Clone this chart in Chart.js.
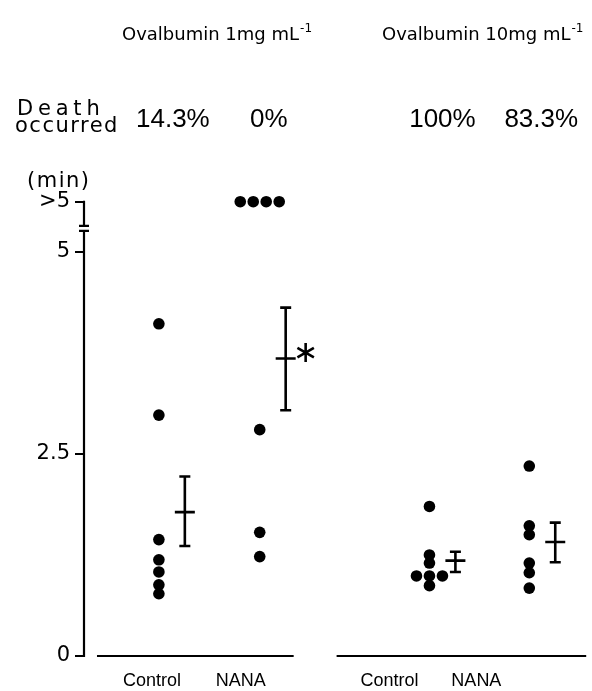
<!DOCTYPE html>
<html>
<head>
<meta charset="utf-8">
<script src="https://cdn.jsdelivr.net/npm/chart.js@4.4.1/dist/chart.umd.min.js"></script>
<style>
  html, body { margin: 0; padding: 0; background: #fff; }
  #wrap { width: 592px; height: 691px; position: relative; }
</style>
</head>
<body>
<div id="wrap"><canvas id="shock-chart"></canvas></div>
<script>
// 생존 시간 (min), ">5" 는 위쪽 줄에 찍음
const ABOVE5 = 5.62;
const groupNames = ['Control', 'NANA', 'Control', 'NANA'];
const groupX = [1, 2.01, 3.71, 4.71];
const labelX = [0.93, 1.82, 3.31, 4.18];
const deathRate = ['14.3%', '0%', '100%', '83.3%'];
const deathRateX = [1.14, 2.1, 3.84, 4.83];

const control1 = [4.11, 2.98, 1.44, 1.19, 1.04, 0.88, 0.77];
const nana1 = [ABOVE5, ABOVE5, ABOVE5, ABOVE5, 2.80, 1.53, 1.23];
const control10 = [1.85, 1.25, 1.15, 0.99, 0.99, 0.99, 0.87];
const nana10 = [2.35, 1.61, 1.50, 1.15, 1.03, 0.84];
// 같은 값끼리 옆으로 비켜 찍기
const control1Shift = [0, 0, 0, 0, 0, 0, 0];
const nana1Shift = [-0.195, -0.065, 0.065, 0.195, 0, 0, 0];
const control10Shift = [0, 0, 0, -0.13, 0, 0.13, 0];
const nana10Shift = [0, 0, 0, 0, 0, 0];

// 평균 ± SE
const means = [1.78, 3.68, 1.18, 1.41];
const seHigh = [2.22, 4.31, 1.29, 1.65];
const seLow = [1.36, 3.04, 1.04, 1.16];
const meanOffset = 0.26;

const yTicks = [0, 2.5, 5, ABOVE5];
const yTickLabels = ['0', '2.5', '5', '>5'];
const axisBreak = [5.26, 5.32];
const baseSegments = [[0.38, 2.35], [2.78, 5.28]];

const FONT = '"DejaVu Sans", "Liberation Sans", Arial, sans-serif';
const SANS = '"Liberation Sans", Arial, Helvetica, sans-serif';

const values = [control1, nana1, control10, nana10];
const shifts = [control1Shift, nana1Shift, control10Shift, nana10Shift];

const datasets = values.map((vals, g) => ({
	data: vals.map((v, i) => ({ x: groupX[g] + shifts[g][i], y: v })),
	pointRadius: 5.8,
	pointBackgroundColor: '#000',
	pointBorderColor: '#000',
	pointBorderWidth: 0,
	showLine: false
}));

const extras = {
	id: 'extras',
	afterDatasetsDraw(chart) {
		const { ctx, chartArea } = chart;
		const x = chart.scales.x, y = chart.scales.y;
		ctx.save();
		ctx.strokeStyle = '#000';
		ctx.fillStyle = '#000';
		ctx.lineWidth = 2.2;
		ctx.lineCap = 'butt';

		// y 축 (끊김 표시 포함)
		const ax = chartArea.left - 1;
		const yb0 = y.getPixelForValue(axisBreak[0]);
		const yb1 = y.getPixelForValue(axisBreak[1]);
		ctx.beginPath();
		ctx.moveTo(ax, y.getPixelForValue(0) + 1);
		ctx.lineTo(ax, yb0);
		ctx.moveTo(ax - 5, yb0);
		ctx.lineTo(ax + 5, yb0);
		ctx.moveTo(ax - 5, yb1);
		ctx.lineTo(ax + 5, yb1);
		ctx.moveTo(ax, yb1);
		ctx.lineTo(ax, y.getPixelForValue(ABOVE5) - 1);
		ctx.stroke();

		// 아래 기준선
		const y0 = y.getPixelForValue(0);
		ctx.lineWidth = 2;
		ctx.beginPath();
		baseSegments.forEach(s => {
			ctx.moveTo(x.getPixelForValue(s[0]), y0);
			ctx.lineTo(x.getPixelForValue(s[1]), y0);
		});
		ctx.stroke();

		// 평균 ± SE 막대
		ctx.lineWidth = 2.6;
		means.forEach((m, i) => {
			const px = x.getPixelForValue(groupX[i] + meanOffset);
			const hi = y.getPixelForValue(seHigh[i]);
			const lo = y.getPixelForValue(seLow[i]);
			const my = y.getPixelForValue(m);
			ctx.beginPath();
			ctx.moveTo(px, hi);
			ctx.lineTo(px, lo);
			ctx.moveTo(px - 5.5, hi);
			ctx.lineTo(px + 5.5, hi);
			ctx.moveTo(px - 5.5, lo);
			ctx.lineTo(px + 5.5, lo);
			ctx.moveTo(px - 10, my);
			ctx.lineTo(px + 10, my);
			ctx.stroke();
		});

		// 유의차 별표
		const sx = x.getPixelForValue(groupX[1] + meanOffset + 0.2);
		const sy = y.getPixelForValue(means[1]) - 6;
		ctx.lineWidth = 2.6;
		ctx.beginPath();
		for (let k = 0; k < 3; k++) {
			const a = Math.PI / 2 + k * Math.PI / 3;
			ctx.moveTo(sx - 9.5 * Math.cos(a), sy - 9.5 * Math.sin(a));
			ctx.lineTo(sx + 9.5 * Math.cos(a), sy + 9.5 * Math.sin(a));
		}
		ctx.stroke();
		ctx.restore();
	},
	afterDraw(chart) {
		const { ctx } = chart;
		const x = chart.scales.x;
		ctx.save();
		ctx.fillStyle = '#000';
		ctx.textBaseline = 'alphabetic';

		// 제목
		const title = (text, left) => {
			ctx.font = '18px ' + FONT;
			ctx.textAlign = 'left';
			ctx.fillText(text, left, 40);
			const w = ctx.measureText(text).width;
			ctx.font = '12px ' + FONT;
			ctx.fillText('-1', left + w + 1, 32);
		};
		title('Ovalbumin 1mg mL', 122);
		title('Ovalbumin 10mg mL', 382);

		ctx.font = '21px ' + FONT;
		ctx.letterSpacing = '4.8px';
		ctx.fillText('Death', 17, 115);
		ctx.letterSpacing = '1.5px';
		ctx.fillText('occurred', 15, 132);

		ctx.letterSpacing = '0px';
		ctx.font = '26px ' + SANS;
		ctx.textAlign = 'center';
		ctx.textBaseline = 'alphabetic';
		deathRate.forEach((t, i) => {
			ctx.fillText(t, x.getPixelForValue(deathRateX[i]), 127);
		});

		ctx.font = '21px ' + FONT;
		ctx.textAlign = 'left';
		ctx.letterSpacing = '1.5px';
		ctx.fillText('(min)', 27, 187);
		ctx.restore();
	}
};

document.addEventListener('DOMContentLoaded', function() {
	const ctx = document.getElementById('shock-chart').getContext('2d');
	new Chart(ctx, {
		type: 'scatter',
		data: { datasets: datasets },
		options: {
			responsive: true,
			maintainAspectRatio: false,
			animation: false,
			layout: { padding: { top: 171, right: 0, bottom: 0, left: 0 } },
			plugins: {
				legend: { display: false },
				tooltip: { enabled: false }
			},
			scales: {
				x: {
					type: 'linear',
					min: 0.26,
					max: 5.28,
					afterFit(s) { s.height = 35; },
					afterBuildTicks(s) { s.ticks = labelX.map(v => ({ value: v })); },
					grid: { display: false, drawTicks: false },
					border: { display: false },
					ticks: {
						callback: (v, i) => groupNames[i],
						font: { family: SANS, size: 18 },
						color: '#000',
						padding: 14,
						maxRotation: 0,
						autoSkip: false
					}
				},
				y: {
					min: 0,
					max: 6,
					afterFit(s) { s.width = 85; },
					afterBuildTicks(s) { s.ticks = yTicks.map(v => ({ value: v })); },
					grid: { drawOnChartArea: false, drawTicks: true, tickLength: 10, color: '#000', lineWidth: 2 },
					border: { display: false },
					ticks: {
						callback: (v, i) => yTickLabels[i],
						font: { family: FONT, size: 21 },
						color: '#000',
						padding: 5
					}
				}
			}
		},
		plugins: [extras]
	});
});
</script>
</body>
</html>
